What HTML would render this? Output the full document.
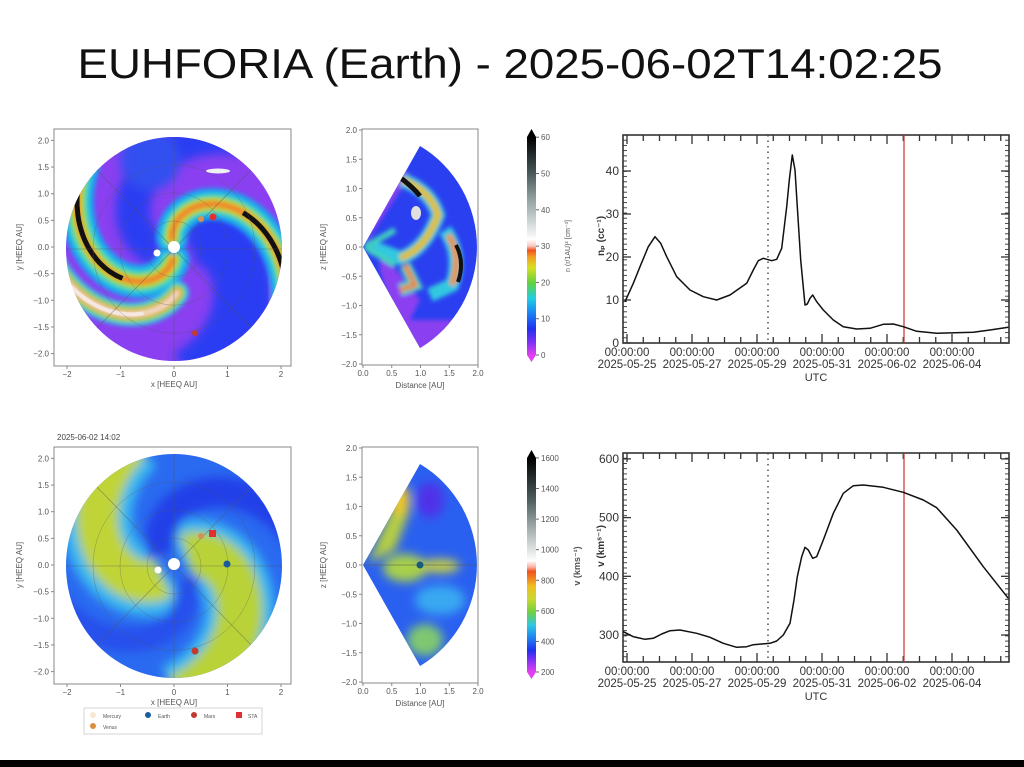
<!DOCTYPE html>
<html><head><meta charset="utf-8">
<style>
html,body{margin:0;padding:0;background:#fff;}
svg{display:block;}
text{font-family:"Liberation Sans","DejaVu Sans",sans-serif;}
</style></head>
<body>
<svg id="s" width="1024" height="767" viewBox="0 0 1024 767" xmlns="http://www.w3.org/2000/svg">
<defs>
<filter id="bl" x="-20%" y="-20%" width="140%" height="140%"><feGaussianBlur stdDeviation="2.2"/></filter>
<filter id="bl2" x="-20%" y="-20%" width="140%" height="140%"><feGaussianBlur stdDeviation="5"/></filter>
<clipPath id="c1"><ellipse cx="174" cy="249" rx="108" ry="112"/></clipPath>
<clipPath id="c2"><ellipse cx="174" cy="566" rx="108" ry="112"/></clipPath>
<clipPath id="w1"><path d="M363,247 L420,146 A115,117 0 0 1 420,348 Z"/></clipPath>
<clipPath id="w2"><path d="M363,565 L420,464 A115,117 0 0 1 420,666 Z"/></clipPath>
<linearGradient id="cb1" x1="0" y1="1" x2="0" y2="0">
<stop offset="0" stop-color="#e040f0"/><stop offset="0.06" stop-color="#7a30f5"/><stop offset="0.12" stop-color="#2030f0"/>
<stop offset="0.2" stop-color="#1a8cf5"/><stop offset="0.26" stop-color="#20d0e0"/><stop offset="0.33" stop-color="#60d040"/>
<stop offset="0.4" stop-color="#d8e020"/><stop offset="0.45" stop-color="#f0a020"/><stop offset="0.48" stop-color="#f05020"/>
<stop offset="0.5" stop-color="#f8c8c0"/><stop offset="0.53" stop-color="#ffffff"/><stop offset="0.7" stop-color="#9aa8a8"/>
<stop offset="0.85" stop-color="#405050"/><stop offset="1" stop-color="#000"/></linearGradient>
</defs>
<rect width="1024" height="767" fill="#fff"/>
<text x="510" y="78" font-size="42" text-anchor="middle" textLength="865" lengthAdjust="spacingAndGlyphs" fill="#111">EUHFORIA (Earth) -  2025-06-02T14:02:25</text>
<g id="g"></g>
<rect x="0" y="760" width="1024" height="7" fill="#000"/>
</svg>
<script>
var NS="http://www.w3.org/2000/svg",G=document.getElementById('g');
function el(t,a,p,tx){var e=document.createElementNS(NS,t);for(var k in a)e.setAttribute(k,a[k]);if(tx!==undefined)e.textContent=tx;(p||G).appendChild(e);return e;}
function txt(x,y,s,sz,anc,col,rot,w){var a={x:x,y:y,'font-size':sz,'text-anchor':anc||'middle',fill:col||'#444'};if(w)a['font-weight']=w;if(rot)a.transform='rotate('+rot+' '+x+' '+y+')';return el('text',a,G,s);}
function spiral(cx,cy,sx,sy,phi0,k,r0,r1){var d='';for(var r=r0;r<=r1+1e-6;r+=0.04){var p=(phi0-k*r)*Math.PI/180;d+=(d?'L':'M')+(cx+sx*r*Math.cos(p)).toFixed(1)+','+(cy-sy*r*Math.sin(p)).toFixed(1);}return d;}
var g1=el('g',{'clip-path':'url(#c1)'});
el('rect',{x:60,y:130,width:230,height:240,fill:'#8a40f0'},g1);
var gb=el('g',{filter:'url(#bl2)'},g1);
el('path',{d:spiral(174,249,53.5,55,60,60,0.3,2.4),stroke:'#2a3cf2','stroke-width':60,fill:'none'},gb);
el('path',{d:spiral(174,249,53.5,55,200,60,0.3,2.4),stroke:'#2a3cf2','stroke-width':34,fill:'none'},gb);
el('circle',{cx:150,cy:160,r:30,fill:'#3050f0'},gb);
var ga=el('g',{filter:'url(#bl)'},g1);
function arm(ph,r0,r1,ws,cols){for(var i=0;i<ws.length;i++)el('path',{d:spiral(174,249,53.5,55,ph,60,r0,r1),stroke:cols[i],'stroke-width':ws[i],fill:'none','stroke-linecap':'round'},ga);}
arm(275,0.2,2.3,[34,24,16,10,6],['#1aa0f0','#30d0d0','#80d840','#e0d020','#f08030']);
arm(114,0.2,2.3,[32,22,15,10,6],['#1aa0f0','#30d0d0','#80d840','#e0d020','#f08030']);
arm(322,0.8,2.3,[24,16,10,5],['#30c0e0','#90d840','#f0a030','#f0e0d0']);
el('path',{d:spiral(174,249,53.5,55,275,60,1.1,2.3),stroke:'#111','stroke-width':5,fill:'none'},g1);
el('path',{d:spiral(174,249,53.5,55,114,60,1.45,2.3),stroke:'#111','stroke-width':5,fill:'none'},g1);
el('path',{d:spiral(174,249,53.5,55,322,60,1.3,2.3),stroke:'#f4e8e0','stroke-width':4,fill:'none'},g1);
el('ellipse',{cx:218,cy:171,rx:12,ry:2.5,fill:'#f0f0f0'},g1);
function grid(gp,cx,cy){el('line',{x1:cx,y1:cy-115,x2:cx,y2:cy+115,stroke:'#555','stroke-width':0.6,opacity:0.6},gp);el('line',{x1:cx-110,y1:cy,x2:cx+110,y2:cy,stroke:'#555','stroke-width':0.6,opacity:0.6},gp);
el('line',{x1:cx-80,y1:cy+82,x2:cx+80,y2:cy-82,stroke:'#555','stroke-width':0.6,opacity:0.6},gp);el('line',{x1:cx-80,y1:cy-82,x2:cx+80,y2:cy+82,stroke:'#555','stroke-width':0.6,opacity:0.6},gp);
[27,54,81].forEach(function(r){el('ellipse',{cx:cx,cy:cy,rx:r,ry:r*1.04,fill:'none',stroke:'#555','stroke-width':0.5,opacity:0.5},gp);});}
grid(g1,174,249);
el('circle',{cx:174,cy:247,r:6,fill:'#fff'});el('circle',{cx:157,cy:253,r:3.5,fill:'#fff'});
el('circle',{cx:201,cy:219,r:3,fill:'#d89050'});el('circle',{cx:213,cy:217,r:3.5,fill:'#e03030'});el('circle',{cx:195,cy:333,r:3,fill:'#c03a30'});
var g2=el('g',{'clip-path':'url(#c2)'});
el('rect',{x:60,y:450,width:230,height:240,fill:'#2a6af0'},g2);
var gc=el('g',{filter:'url(#bl2)'},g2);
function sp2(ph,k,r0,r1){return spiral(174,566,53.5,55,ph,k,r0,r1);}
el('path',{d:sp2(241,55,0.2,2.4),stroke:'#38b8f0','stroke-width':70,fill:'none'},gc);
el('path',{d:sp2(241,55,0.3,2.4),stroke:'#c0d438','stroke-width':42,fill:'none'},gc);
el('path',{d:sp2(55,60,0.2,2.4),stroke:'#38b8f0','stroke-width':70,fill:'none'},gc);
el('path',{d:sp2(55,60,0.3,2.4),stroke:'#b8d238','stroke-width':46,fill:'none'},gc);
el('path',{d:sp2(150,58,0.3,2.4),stroke:'#2040e8','stroke-width':30,fill:'none'},gc);
el('path',{d:sp2(330,58,0.3,2.4),stroke:'#2550ec','stroke-width':24,fill:'none'},gc);
grid(g2,174,566);
el('circle',{cx:174,cy:564,r:6,fill:'#fff'});el('circle',{cx:158,cy:570,r:3.5,fill:'#fff'});
el('circle',{cx:201,cy:536,r:3,fill:'#d89050'});el('rect',{x:209,y:530,width:7,height:7,fill:'#e03030'});
el('circle',{cx:227,cy:564,r:3.5,fill:'#1a5a9a'});el('circle',{cx:195,cy:651,r:3.5,fill:'#c03a30'});
var m1=el('g',{'clip-path':'url(#w1)'});
el('rect',{x:360,y:140,width:130,height:215,fill:'#2a40f0'},m1);
var mb=el('g',{filter:'url(#bl)'},m1);
el('path',{d:'M365,245 L410,175 L395,160 Z',fill:'#8a40f0'},mb);
el('path',{d:'M380,250 L420,300 L400,340 L380,270Z',fill:'#8a40f0'},mb);
el('rect',{x:380,y:320,width:100,height:40,fill:'#8a40f0'},mb);
el('path',{d:'M402,180 Q430,190 438,215 Q425,250 400,258 Q380,250 372,248',stroke:'#30c8e0','stroke-width':14,fill:'none'},mb);
el('path',{d:'M402,180 Q430,190 438,215 Q425,250 400,258',stroke:'#e0c020','stroke-width':7,fill:'none'},mb);
el('path',{d:'M445,230 Q462,255 452,285 L430,295',stroke:'#30c8e0','stroke-width':14,fill:'none'},mb);
el('path',{d:'M448,235 Q462,255 452,285',stroke:'#f09020','stroke-width':6,fill:'none'},mb);
el('path',{d:'M405,265 L415,285 L400,290',stroke:'#40d0c0','stroke-width':12,fill:'none'},mb);
el('path',{d:'M405,265 L415,285 L400,290',stroke:'#f08030','stroke-width':5,fill:'none'},mb);
el('path',{d:'M365,247 L395,230 M365,247 L395,265',stroke:'#40d0c0','stroke-width':6,fill:'none'},mb);
el('path',{d:'M398,176 Q412,186 420,196',stroke:'#111','stroke-width':5,fill:'none'},m1);
el('path',{d:'M456,245 Q465,262 458,282',stroke:'#111','stroke-width':4,fill:'none'},m1);
el('ellipse',{cx:416,cy:213,rx:5,ry:7,fill:'#e0e0e0'},m1);
var m2=el('g',{'clip-path':'url(#w2)'});
el('rect',{x:360,y:460,width:130,height:215,fill:'#2a60f0'},m2);
var mc=el('g',{filter:'url(#bl2)'},m2);
el('path',{d:'M368,563 L395,500 L410,510 L395,550 Z',fill:'#b8d040'},mc);
el('ellipse',{cx:400,cy:500,rx:10,ry:16,fill:'#f0c828'},mc);
el('ellipse',{cx:405,cy:568,rx:22,ry:14,fill:'#a8d048'},mc);
el('ellipse',{cx:440,cy:566,rx:20,ry:7,fill:'#c8d040'},mc);
el('ellipse',{cx:425,cy:640,rx:18,ry:16,fill:'#80c870'},mc);
el('ellipse',{cx:430,cy:500,rx:14,ry:18,fill:'#5030e8'},mc);
el('ellipse',{cx:440,cy:600,rx:25,ry:15,fill:'#38a8f0'},mc);
el('line',{x1:363,y1:565,x2:478,y2:565,stroke:'#555','stroke-width':0.6},m2);
el('circle',{cx:420,cy:565,r:3.5,fill:'#1a5a7a'});
function frame(x0,y0,x1,y1){el('rect',{x:x0,y:y0,width:x1-x0,height:y1-y0,fill:'none',stroke:'#888','stroke-width':1});}
function spatialAxes(yOff){
 frame(54,yOff+129,291,yOff+366);
 [-2,-1,0,1,2].forEach(function(v){var x=174+53.5*v;el('line',{x1:x,y1:yOff+366,x2:x,y2:yOff+369,stroke:'#888'});txt(x,yOff+377,v<0?'\u2212'+(-v):''+v,8,'middle','#555');});
 [2,1.5,1,0.5,0,-0.5,-1,-1.5,-2].forEach(function(v){var y=yOff+247-53.3*v;el('line',{x1:51,y1:y,x2:54,y2:y,stroke:'#888'});txt(49,y+3,(v<0?'\u2212':'')+Math.abs(v).toFixed(1),8,'end','#555');});
 txt(174,yOff+387,'x [HEEQ AU]',8,'middle','#555');txt(22,yOff+247,'y [HEEQ AU]',8,'middle','#555',-90);
 frame(362,yOff+129,478,yOff+365);
 [0,0.5,1,1.5,2].forEach(function(v){var x=363+57.5*v;el('line',{x1:x,y1:yOff+365,x2:x,y2:yOff+368,stroke:'#888'});txt(x,yOff+376,v.toFixed(1),8,'middle','#555');});
 [2,1.5,1,0.5,0,-0.5,-1,-1.5,-2].forEach(function(v){var y=yOff+247-58.5*v;el('line',{x1:359,y1:y,x2:362,y2:y,stroke:'#888'});txt(357,y+3,(v<0?'\u2212':'')+Math.abs(v).toFixed(1),8,'end','#555');});
 txt(420,yOff+388,'Distance [AU]',8,'middle','#555');txt(326,yOff+247,'z [HEEQ AU]',8,'middle','#555',-90);
}
spatialAxes(0);spatialAxes(318);
txt(57,440,'2025-06-02 14:02',8,'start','#444');
el('rect',{x:527,y:137,width:9,height:218,fill:'url(#cb1)'});
el('path',{d:'M527,137 L531.5,129 L536,137Z',fill:'#000'});el('path',{d:'M527,355 L531.5,362 L536,355Z',fill:'#e040f0'});
[0,10,20,30,40,50,60].forEach(function(v){var y=355-v*3.63;el('line',{x1:536,y1:y,x2:539,y2:y,stroke:'#666'});txt(541,y+3,''+v,8,'start','#555');});
txt(570,246,'n (r/1AU)\u00b2  [cm\u207b\u00b3]',7,'middle','#555',-90);
var lg=el('linearGradient',{id:'cb2',x1:0,y1:1,x2:0,y2:0},document.querySelector('defs'));
[[0,'#e040f0'],[0.06,'#7a30f5'],[0.1,'#2030f0'],[0.17,'#2090f0'],[0.22,'#30c8e0'],[0.28,'#70d040'],[0.34,'#c8d830'],[0.4,'#f0c020'],[0.44,'#f08020'],[0.47,'#f05020'],[0.49,'#f8b0a0'],[0.52,'#fff'],[0.65,'#b0b8b8'],[0.8,'#506060'],[1,'#000']].forEach(function(s){el('stop',{offset:s[0],'stop-color':s[1]},lg);});
el('rect',{x:527,y:458,width:9,height:214,fill:'url(#cb2)'});
el('path',{d:'M527,458 L531.5,450 L536,458Z',fill:'#000'});el('path',{d:'M527,672 L531.5,679 L536,672Z',fill:'#e040f0'});
[200,400,600,800,1000,1200,1400,1600].forEach(function(v){var y=672-(v-200)*0.1529;el('line',{x1:536,y1:y,x2:539,y2:y,stroke:'#666'});txt(541,y+3,''+v,8,'start','#555');});
txt(580,566,'v (kms\u207b\u00b9)',9,'middle','#555',-90,'bold');
el('rect',{x:84,y:708,width:178,height:26,fill:'#fff',stroke:'#ccc','stroke-width':0.8});
el('circle',{cx:93,cy:715,r:3,fill:'#f8e8d0'});txt(103,718,'Mercury',5,'start','#555');
el('circle',{cx:93,cy:726,r:3,fill:'#d89040'});txt(103,729,'Venus',5,'start','#555');
el('circle',{cx:148,cy:715,r:3,fill:'#1a60a0'});txt(158,718,'Earth',5,'start','#555');
el('circle',{cx:194,cy:715,r:3,fill:'#c03a30'});txt(204,718,'Mars',5,'start','#555');
el('rect',{x:236,y:712,width:6,height:6,fill:'#e03030'});txt(248,718,'STA',5,'start','#555');
function tsAxes(y0,y1,ylab,yt,yfun,data,xlY,ly){
 el('rect',{x:623,y:y0,width:386,height:y1-y0,fill:'none',stroke:'#333','stroke-width':1.6});
 for(var d=-0.5;d<=11.75;d+=0.5){var x=627+32.5*d;if(x<624||x>1008)continue;var L=(Math.abs(d-Math.round(d/2)*2)<0.01)?9:6;
  el('line',{x1:x,y1:y1,x2:x,y2:y1-L,stroke:'#333','stroke-width':1.3});el('line',{x1:x,y1:y0,x2:x,y2:y0+L,stroke:'#333','stroke-width':1.3});}
 for(var y=y1;y>y0;y-=(y1-y0)/40){el('line',{x1:623,y1:y,x2:627,y2:y,stroke:'#333','stroke-width':0.9});el('line',{x1:1009,y1:y,x2:1005,y2:y,stroke:'#333','stroke-width':0.9});}
 yt.forEach(function(v){var y=yfun(v);el('line',{x1:623,y1:y,x2:631,y2:y,stroke:'#333','stroke-width':1.3});el('line',{x1:1009,y1:y,x2:1001,y2:y,stroke:'#333','stroke-width':1.3});txt(619,y+4,''+v,12,'end','#333');});
 var dates=['2025-05-25','2025-05-27','2025-05-29','2025-05-31','2025-06-02','2025-06-04'];
 for(var i=0;i<6;i++){var x=627+65*i;txt(x,xlY,'00:00:00',11.5,'middle','#333');txt(x,xlY+12,dates[i],11.5,'middle','#333');}
 txt(816,xlY+25,'UTC',11,'middle','#333');
 el('line',{x1:768,y1:y0,x2:768,y2:y1,stroke:'#445','stroke-width':1.4,'stroke-dasharray':'1.5,4'});
 el('line',{x1:904,y1:y0,x2:904,y2:y1,stroke:'#d04040','stroke-width':1.3});
 var dd='';data.forEach(function(p,i){dd+=(i?'L':'M')+(590+p[0]/3).toFixed(1)+','+p[1].toFixed(1);});
 el('path',{d:dd,fill:'none',stroke:'#111','stroke-width':1.5,'stroke-linejoin':'round'});
 txt(604,ly,ylab,10,'middle','#333',-90,'bold');
}
var dTop=[[105,545],[130,490],[150,440],[175,380],[195,350],[212,370],[230,410],[260,470],[300,510],[340,530],[380,540],[420,525],[470,490],[490,450],[505,422],[520,415],[545,422],[560,418],[575,385],[590,260],[598,180],[607,105],[615,150],[622,260],[632,420],[645,555],[652,552],[660,535],[668,525],[680,545],[700,570],[730,600],[760,620],[800,627],[840,625],[880,613],[910,612],[940,620],[980,634],[1040,640],[1150,637],[1200,630],[1255,622]].map(function(p){return [p[0],120+p[1]/3];});
tsAxes(135,343,'n\u209a (cc\u207b\u00b9)',[0,10,20,30,40],function(v){return 343-4.3*v;},dTop,356,236);
var dBot=[[100,575],[130,590],[165,598],[190,595],[215,582],[240,572],[270,570],[320,580],[360,592],[400,610],[440,622],[470,620],[490,614],[540,610],[560,603],[580,585],[600,550],[612,480],[622,410],[635,350],[645,322],[655,330],[668,355],[680,350],[700,300],[730,220],[760,160],[790,137],[820,135],[880,142],[940,157],[1000,180],[1040,203],[1100,270],[1180,380],[1255,475]].map(function(p){return [p[0],440+p[1]/3];});
tsAxes(453,662,'v (km\u02e2\u207b\u00b9)',[300,400,500,600],function(v){return 635-(v-300)*0.587;},dBot,675,546);
</script>
</body></html>
